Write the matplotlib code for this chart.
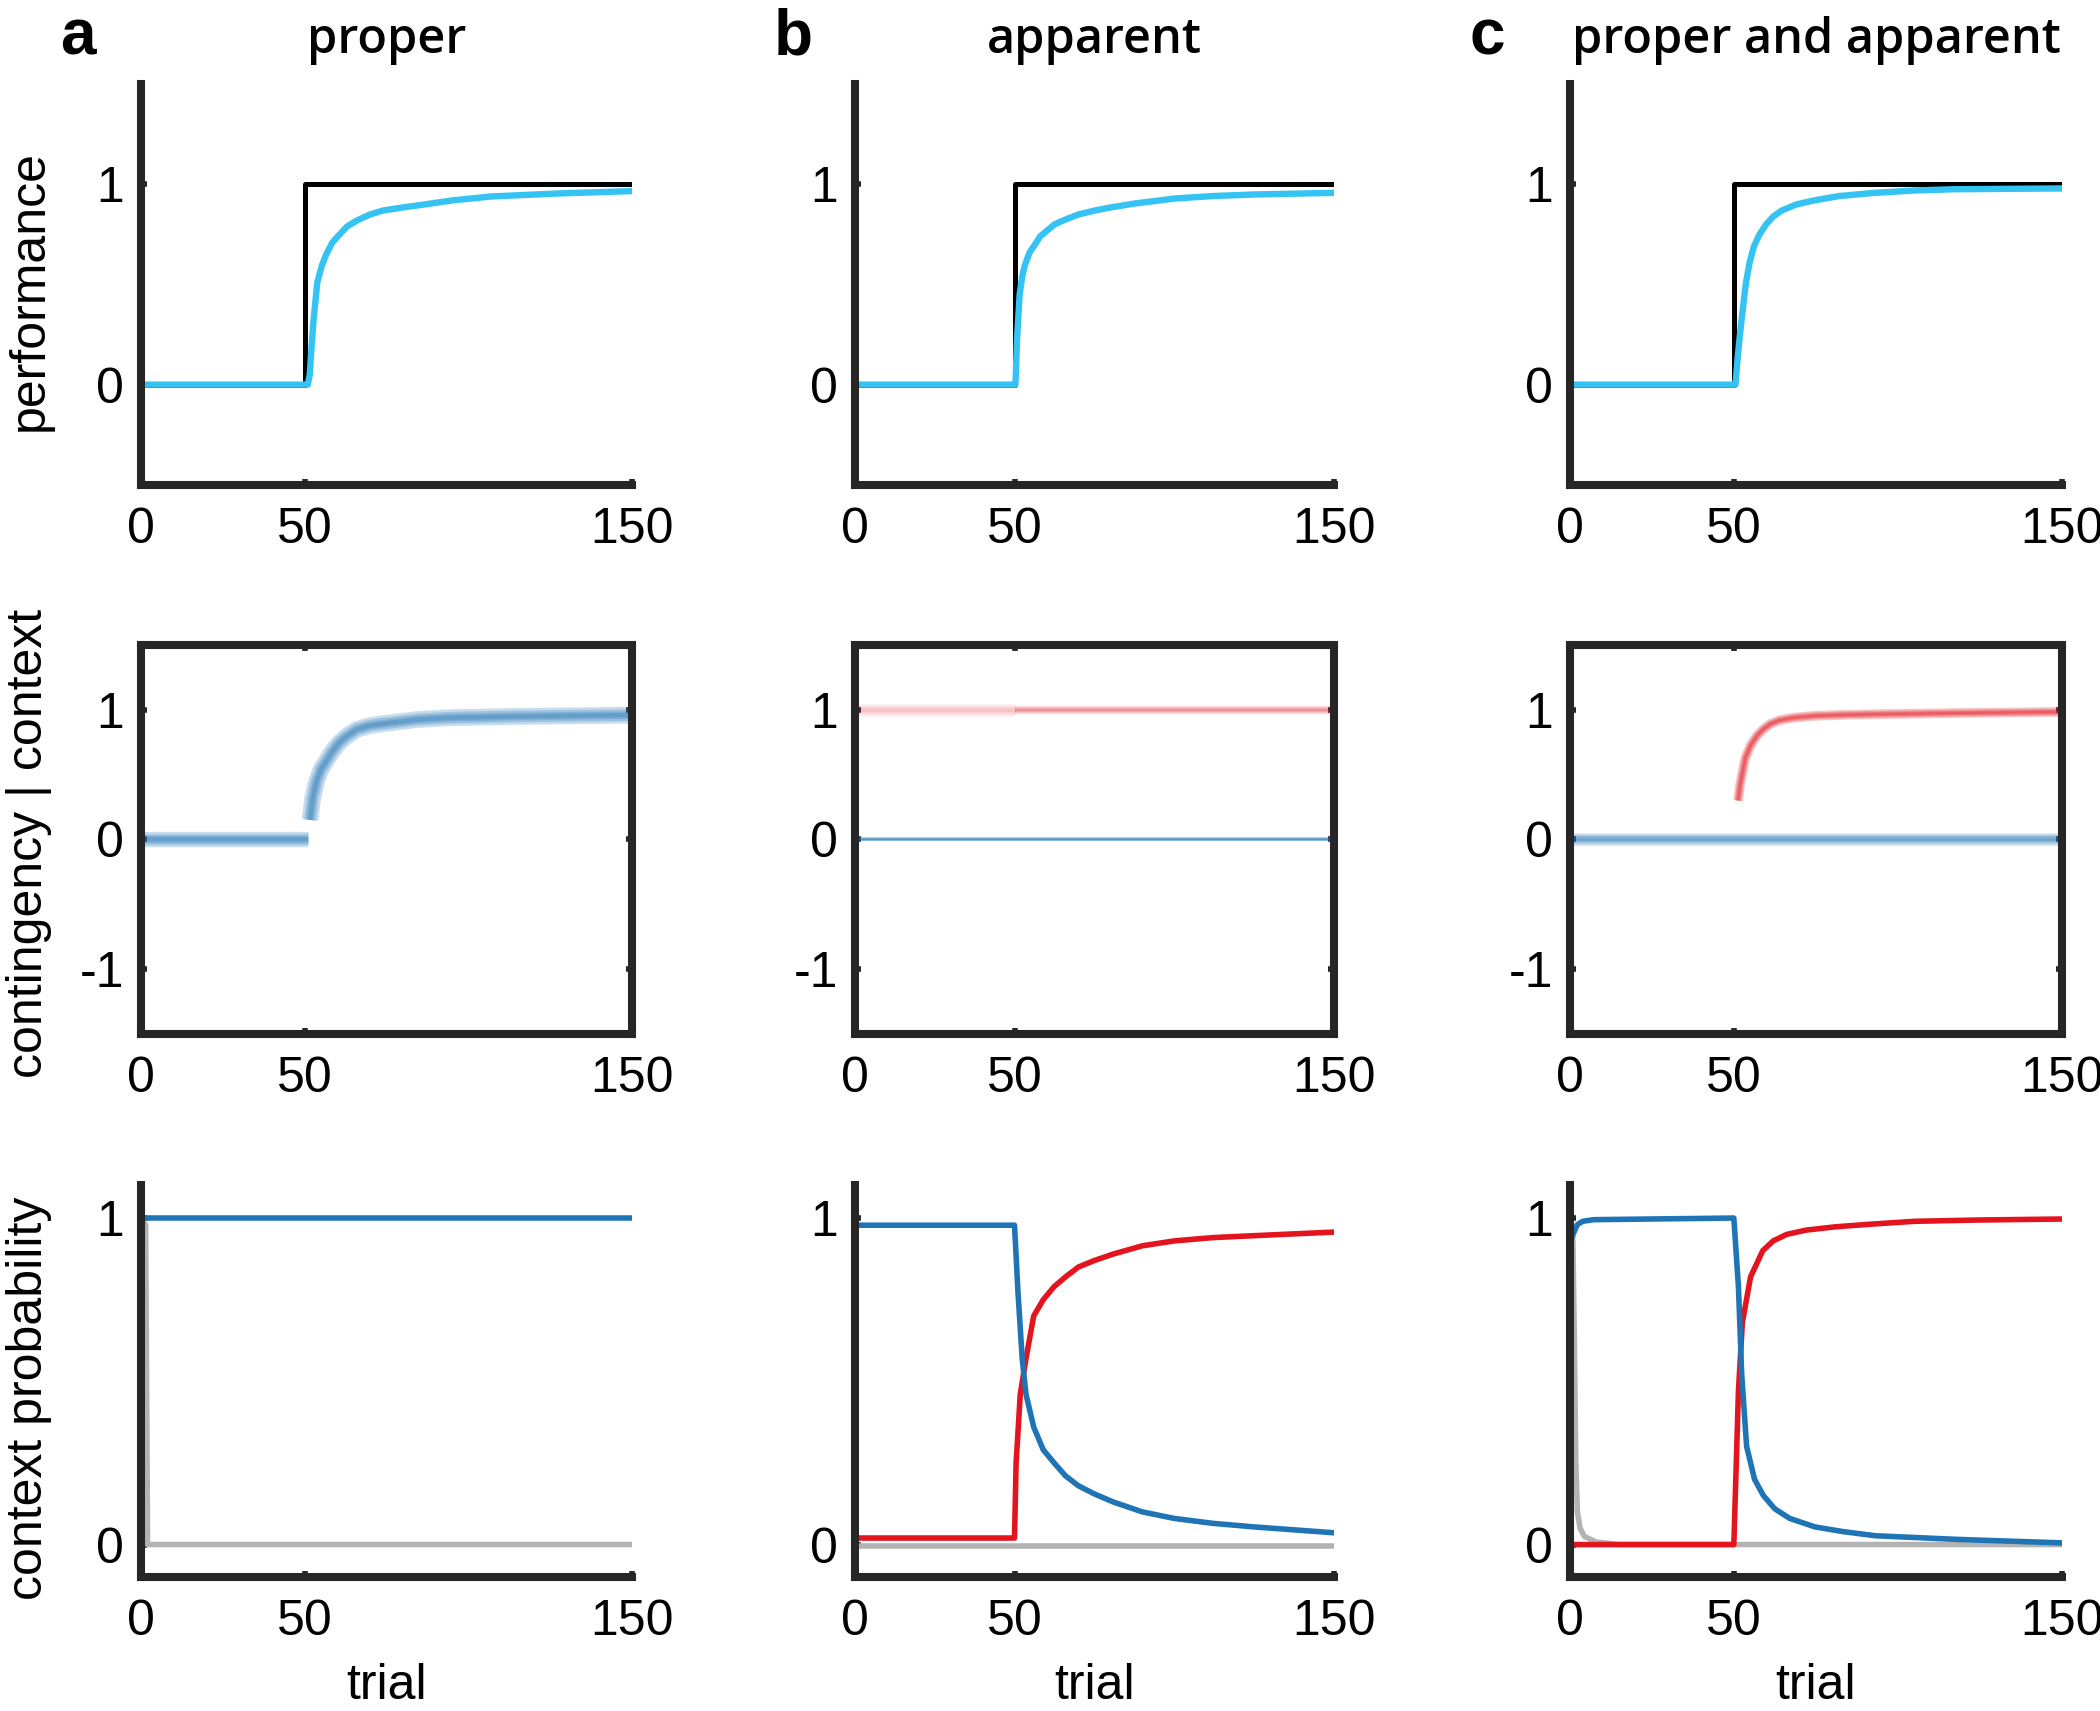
import matplotlib
matplotlib.use("Agg")
import matplotlib.pyplot as plt

plt.rcParams['axes.unicode_minus'] = False

NARROW = ['Liberation Sans Narrow', 'Liberation Sans', 'DejaVu Sans']
REGULAR = ['Liberation Sans', 'DejaVu Sans']

# colours
SKY = '#35c3f3'
BLUE = '#1f74b6'
RED = '#e3141e'
GREY = '#b3b3b3'
SPINE = '#262626'

# ---- data ----
columns = ['proper', 'apparent', 'proper and apparent']
letters = ['a', 'b', 'c']
row_labels = ['performance', 'contingency | context', 'context probability']

# row 1: performance (optimal step + agent)
step_t = [0, 50, 50, 150]
step_v = [0, 0, 1, 1]

perf_a_t = [0, 51, 51.6, 52.2, 52.8, 53.9, 55.2, 56.6, 58.5, 60.7, 63, 66, 70, 74, 80, 86.6, 95, 107, 127.5, 150]
perf_a = [0, 0, 0.05, 0.2, 0.33, 0.51, 0.59, 0.65, 0.71, 0.75, 0.79, 0.82, 0.85, 0.87, 0.885, 0.90, 0.92, 0.94, 0.955, 0.967]

perf_b_t = [0, 50.3, 50.8, 51.6, 52.4, 53.3, 54.7, 56.4, 58, 60.2, 62.5, 65.2, 70, 75.2, 80, 87.7, 100.3, 112, 125.3, 150]
perf_b = [0, 0, 0.23, 0.45, 0.54, 0.6, 0.66, 0.7, 0.74, 0.77, 0.80, 0.82, 0.85, 0.87, 0.885, 0.905, 0.93, 0.942, 0.95, 0.958]

perf_c_t = [0, 50.5, 51.2, 51.8, 52.4, 53.1, 53.7, 54.8, 56.1, 57.8, 59.8, 62, 64.6, 69, 74.4, 82, 92.7, 105, 117, 150]
perf_c = [0, 0, 0.14, 0.24, 0.33, 0.43, 0.51, 0.61, 0.69, 0.75, 0.80, 0.84, 0.87, 0.90, 0.92, 0.942, 0.958, 0.97, 0.976, 0.98]

# row 2: contingency given context (posterior bands)
flat_t = [0, 150]
zero_v = [0, 0]
one_v = [1, 1]
pre_t = [0, 51]
cont_a_t = [51.7, 52.5, 53.7, 55, 56.5, 58.5, 60.7, 63, 66, 70, 76, 84, 94, 114.7, 150]
cont_a = [0.15, 0.32, 0.45, 0.54, 0.6, 0.68, 0.75, 0.8, 0.85, 0.88, 0.9, 0.925, 0.94, 0.95, 0.96]
red_b_t1 = [0, 50]
red_b_t2 = [50, 150]
cont_c_t = [51.3, 51.9, 52.5, 53.5, 55.2, 57, 58.9, 61, 63.8, 68, 74.8, 83, 93, 115, 150]
cont_c = [0.3, 0.42, 0.5, 0.63, 0.73, 0.8, 0.85, 0.89, 0.92, 0.94, 0.955, 0.962, 0.967, 0.975, 0.985]

# row 3: context probability
ctx_a_blue_t = [0.5, 150]
ctx_a_blue = [1, 1]
ctx_a_grey_t = [0, 1.5, 2.1, 150]
ctx_a_grey = [1, 0.98, 0, 0]

ctx_b_t = [0, 50, 51.1, 52.4, 53.6, 56, 59, 62.4, 66, 70, 75, 81, 90, 100, 112, 125, 150]
ctx_b_blue = [0.978, 0.978, 0.77, 0.57, 0.46, 0.36, 0.29, 0.25, 0.21, 0.18, 0.155, 0.13, 0.10, 0.08, 0.065, 0.054, 0.036]
ctx_b_red_t = [0, 50, 50.5, 51.8, 53.6, 56, 59, 62.4, 66, 70, 75, 81, 90, 100, 112, 125, 150]
ctx_b_red = [0.02, 0.02, 0.25, 0.46, 0.57, 0.70, 0.75, 0.79, 0.82, 0.85, 0.87, 0.89, 0.915, 0.93, 0.94, 0.946, 0.957]
ctx_b_grey = [-0.003, -0.003]

ctx_c_blue_t = [0, 0.6, 1.5, 2.4, 4, 7.3, 50, 51.4, 52.4, 53.9, 56.3, 59, 62.4, 67, 74.7, 83, 93, 117.5, 150]
ctx_c_blue = [1.0, 0.94, 0.96, 0.98, 0.99, 0.995, 1.0, 0.79, 0.52, 0.30, 0.2, 0.15, 0.11, 0.08, 0.054, 0.04, 0.027, 0.016, 0.005]
ctx_c_red_t = [0, 50, 51.4, 52.6, 55.1, 58.8, 62, 66.1, 72, 80.8, 90, 105, 125, 150]
ctx_c_red = [0, 0, 0.47, 0.68, 0.82, 0.9, 0.93, 0.95, 0.963, 0.973, 0.98, 0.99, 0.994, 0.997]
ctx_c_grey_t = [0, 1, 1.5, 1.9, 2.4, 3.2, 4.5, 8, 15, 150]
ctx_c_grey = [1.0, 0.95, 0.6, 0.25, 0.1, 0.05, 0.025, 0.008, 0.0, 0.0]


def fuzzy(ax, t, v, color, width, alpha=0.25):
    # soft band built from stacked translucent strokes
    for k in [1.0, 0.7, 0.45, 0.25]:
        ax.plot(t, v, color=color, lw=width * k, alpha=alpha, solid_capstyle='butt')


fig = plt.figure(figsize=(21, 17.11), dpi=100)

lefts = [0.067, 0.407, 0.7474]
widths = [0.234, 0.2283, 0.2347]
bottoms = [0.7167, 0.3959, 0.0782]
heights = [0.234, 0.227, 0.229]

axes = [[fig.add_axes([lefts[c], bottoms[r], widths[c], heights[r]]) for c in range(3)] for r in range(3)]

LW = 4.0

# row 1
for c, (t, v) in enumerate([(perf_a_t, perf_a), (perf_b_t, perf_b), (perf_c_t, perf_c)]):
    ax = axes[0][c]
    ax.plot(step_t, step_v, color='black', lw=3.6)
    ax.plot(t, v, color=SKY, lw=4.6)

# row 2
ax = axes[1][0]
fuzzy(ax, pre_t, zero_v, BLUE, 11)
fuzzy(ax, cont_a_t, cont_a, BLUE, 12)
ax = axes[1][1]
fuzzy(ax, red_b_t1, one_v, RED, 9, alpha=0.07)
fuzzy(ax, red_b_t2, one_v, RED, 6, alpha=0.14)
fuzzy(ax, flat_t, zero_v, BLUE, 3, alpha=0.3)
ax = axes[1][2]
fuzzy(ax, flat_t, zero_v, BLUE, 9, alpha=0.22)
fuzzy(ax, cont_c_t, cont_c, RED, 7, alpha=0.25)

# row 3
ax = axes[2][0]
ax.plot(ctx_a_grey_t, ctx_a_grey, color=GREY, lw=LW)
ax.plot(ctx_a_blue_t, ctx_a_blue, color=BLUE, lw=LW)
ax = axes[2][1]
ax.plot(flat_t, ctx_b_grey, color=GREY, lw=LW)
ax.plot(ctx_b_red_t, ctx_b_red, color=RED, lw=LW)
ax.plot(ctx_b_t, ctx_b_blue, color=BLUE, lw=LW)
ax = axes[2][2]
ax.plot(ctx_c_grey_t, ctx_c_grey, color=GREY, lw=LW)
ax.plot(ctx_c_red_t, ctx_c_red, color=RED, lw=LW)
ax.plot(ctx_c_blue_t, ctx_c_blue, color=BLUE, lw=LW)

ylims = [(-0.5, 1.5), (-1.5, 1.5), (-0.1, 1.1)]
yticks = [[0, 1], [-1, 0, 1], [0, 1]]

for r in range(3):
    for c in range(3):
        ax = axes[r][c]
        ax.set_xlim(0, 150)
        ax.set_ylim(*ylims[r])
        ax.set_xticks([0, 50, 150])
        ax.set_yticks(yticks[r])
        boxed = (r == 1)
        for side in ['top', 'right']:
            ax.spines[side].set_visible(boxed)
        for s in ax.spines.values():
            s.set_linewidth(5.8)
            s.set_color(SPINE)
        ax.tick_params(direction='in', length=4, width=4, color=SPINE,
                       labelsize=36, top=boxed, right=boxed)
        ax.tick_params(axis='x', pad=16)
        ax.tick_params(axis='y', pad=12)
        for lab in ax.get_xticklabels() + ax.get_yticklabels():
            lab.set_family(NARROW)

# panel letters and column titles
for c in range(3):
    cx = lefts[c] + widths[c] / 2
    fig.text(cx, 0.969, columns[c], ha='center', va='baseline', fontsize=35,
             family=['Open Sans', 'DejaVu Sans'], fontweight='semibold')
    fig.text(cx, 0.007, 'trial', ha='center', va='baseline', fontsize=36, family=NARROW)
for x, l in zip([0.037, 0.3776, 0.708], letters):
    fig.text(x, 0.968, l, ha='center', va='baseline', fontsize=46,
             family=REGULAR, fontweight='bold')

for y, lab in zip([0.830, 0.507, 0.183], row_labels):
    fig.text(0.014, y, lab, rotation=90, ha='center', va='center', fontsize=36, family=REGULAR)

fig.savefig('out.png', dpi=100, facecolor='white')
